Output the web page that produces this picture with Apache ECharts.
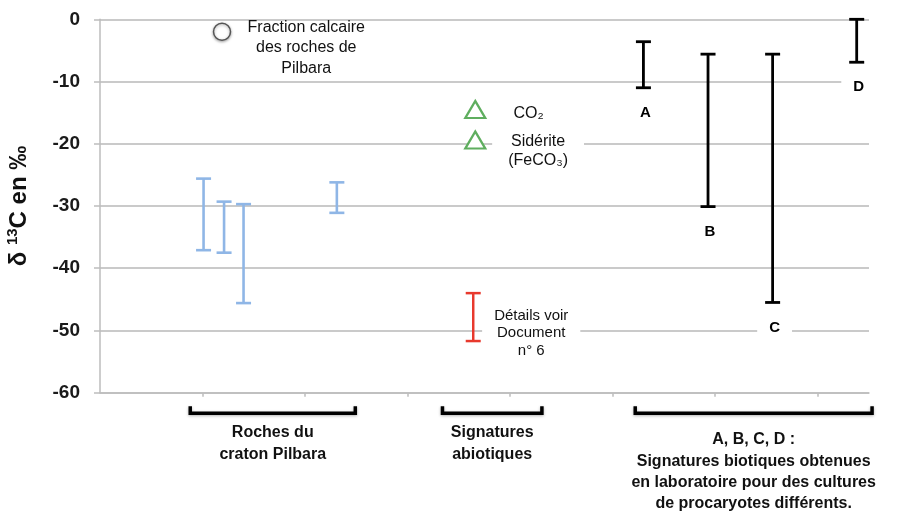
<!DOCTYPE html>
<html>
<head>
<meta charset="utf-8">
<script src="https://cdn.jsdelivr.net/npm/echarts@6/dist/echarts.min.js"></script>
<style>
  html, body { margin: 0; padding: 0; background: #fff; }
  #chart { width: 898px; height: 514px; }
</style>
</head>
<body>
<div id="chart"></div>
<script>
// roches du craton Pilbara (barres bleues)
const rockX = [1.01, 1.21, 1.40, 2.31];
const rockLow = [-37.1, -37.5, -45.6, -31.1];
const rockHigh = [-25.6, -29.3, -29.7, -26.2];

// fraction calcaire (cercle)
const calcX = 1.19;
const calcY = -2.0;

// signatures abiotiques : CO2, siderite (triangles) + barre rouge
const abioX = [3.66, 3.66];
const abioY = [-14.5, -19.4];
const abioNames = ["CO₂", "Sidérite\n(FeCO₃)"];
const redX = 3.64;
const redLow = -51.7;
const redHigh = -44.0;

// signatures biotiques A-D (barres noires)
const bioNames = ["A", "B", "C", "D"];
const bioX = [5.30, 5.93, 6.56, 7.38];
const bioLow = [-11.0, -30.1, -45.5, -6.9];
const bioHigh = [-3.6, -5.6, -5.6, 0];

// accolades sous l'axe
const groupStart = [0.88, 3.34, 5.22];
const groupEnd = [2.49, 4.31, 7.53];
const groupLabels = [
  "Roches du\ncraton Pilbara",
  "Signatures\nabiotiques",
  "A, B, C, D :\nSignatures biotiques obtenues\nen laboratoire pour des cultures\nde procaryotes différents."
];

const chart = echarts.init(document.getElementById("chart"));

function errorBar(color, width, note) {
  return function (params, api) {
    const x = api.value(0);
    const top = api.coord([x, api.value(2)]);
    const bot = api.coord([x, api.value(1)]);
    const cap = 7.5;
    const ls = { stroke: color, lineWidth: width };
    const children = [
      { type: "line", shape: { x1: top[0], y1: top[1], x2: bot[0], y2: bot[1] }, style: ls },
      { type: "line", shape: { x1: top[0] - cap, y1: top[1], x2: top[0] + cap, y2: top[1] }, style: ls },
      { type: "line", shape: { x1: bot[0] - cap, y1: bot[1], x2: bot[0] + cap, y2: bot[1] }, style: ls }
    ];
    if (note) {
      children.push(note(params, top, bot));
    }
    return { type: "group", children: children };
  };
}

const rockData = rockX.map((x, i) => [x, rockLow[i], rockHigh[i]]);
const bioData = bioX.map((x, i) => [x, bioLow[i], bioHigh[i]]);
const groupData = groupStart.map((s, i) => [s, groupEnd[i]]);

const options = {
  animation: false,
  grid: { left: 100, right: 29, top: 19.3, bottom: 121.3, outerBoundsMode: "none" },
  xAxis: {
    type: "value",
    min: 0,
    max: 7.5,
    axisLine: { show: true, onZero: false, lineStyle: { color: "#bdbdbd", width: 1.5 } },
    axisTick: {
      show: true,
      length: 4,
      customValues: [1, 2, 3, 4, 5, 6, 7],
      lineStyle: { color: "#bdbdbd", width: 1.5 }
    },
    axisLabel: { show: false },
    splitLine: { show: false }
  },
  yAxis: {
    type: "value",
    min: -60,
    max: 0,
    interval: 10,
    name: "{d|δ }{s|13}{d|C en ‰}",
    nameLocation: "middle",
    nameRotate: 90,
    nameGap: 67,
    nameTextStyle: {
      fontFamily: "Liberation Sans",
      fontWeight: "bold",
      fontSize: 24,
      color: "#111",
      rich: {
        d: { fontFamily: "Liberation Sans", fontWeight: "bold", fontSize: 24, color: "#111", lineHeight: 28 },
        s: { fontFamily: "Liberation Sans", fontWeight: "bold", fontSize: 15, color: "#111", verticalAlign: "top", lineHeight: 28 }
      }
    },
    axisLine: { show: true, lineStyle: { color: "#bdbdbd", width: 1.5 } },
    axisTick: { show: true, length: 6, lineStyle: { color: "#bdbdbd", width: 1.5 } },
    axisLabel: {
      margin: 20,
      fontFamily: "Liberation Sans",
      fontWeight: "bold",
      fontSize: 19,
      color: "#1a1a1a"
    },
    splitLine: { lineStyle: { color: "#cacaca", width: 2 } }
  },
  series: [
    {
      name: "Roches du craton Pilbara",
      type: "custom",
      renderItem: errorBar("#8fb6e6", 2.6),
      data: rockData,
      z: 3
    },
    {
      name: "Fraction calcaire",
      type: "scatter",
      symbol: "circle",
      symbolSize: 17,
      itemStyle: {
        opacity: 1,
        color: "#fff",
        borderColor: "#555",
        borderWidth: 1.5,
        shadowBlur: 3,
        shadowColor: "rgba(0,0,0,0.35)",
        shadowOffsetY: 1
      },
      label: {
        show: true,
        position: [93.5, -5.5],
        align: "center",
        verticalAlign: "top",
        lineHeight: 20.5,
        fontFamily: "Liberation Sans",
        fontSize: 16,
        color: "#111",
        formatter: "Fraction calcaire\ndes roches de\nPilbara"
      },
      data: [[calcX, calcY]],
      z: 4
    },
    {
      name: "Signatures abiotiques",
      type: "scatter",
      symbol: "triangle",
      symbolSize: [20, 17],
      itemStyle: { opacity: 1, color: "#fff", borderColor: "#5fae5f", borderWidth: 2.2 },
      label: {
        show: true,
        fontFamily: "Liberation Sans",
        fontSize: 16,
        color: "#111",
        formatter: (p) => abioNames[p.dataIndex]
      },
      data: [
        {
          value: [abioX[0], abioY[0]],
          label: { position: "right", distance: 27, offset: [0, 4] }
        },
        {
          value: [abioX[1], abioY[1]],
          label: {
            position: [74, 0],
            align: "center",
            verticalAlign: "top",
            lineHeight: 19,
            backgroundColor: "#fff",
            padding: [2, 16]
          }
        }
      ],
      z: 4
    },
    {
      name: "Détails",
      type: "custom",
      renderItem: errorBar("#e8392d", 2.5, function (params, top, bot) {
        return {
          type: "text",
          style: {
            text: "Détails voir\nDocument\nn° 6",
            x: top[0] + 58,
            y: (top[1] + bot[1]) / 2 + 16,
            align: "center",
            verticalAlign: "middle",
            fontFamily: "Liberation Sans",
            fontSize: 15,
            lineHeight: 17.5,
            fill: "#111",
            backgroundColor: "#fff",
            padding: [0, 12]
          }
        };
      }),
      data: [[redX, redLow, redHigh]],
      z: 3
    },
    {
      name: "Signatures biotiques",
      type: "custom",
      renderItem: errorBar("#000", 2.8, function (params, top, bot) {
        return {
          type: "text",
          style: {
            text: bioNames[params.dataIndex],
            x: bot[0] + 2,
            y: bot[1] + 25,
            align: "center",
            verticalAlign: "middle",
            fontFamily: "Liberation Sans",
            fontWeight: "bold",
            fontSize: 15,
            fill: "#000",
            backgroundColor: "#fff",
            padding: [3, 12]
          }
        };
      }),
      data: bioData,
      z: 3
    },
    {
      name: "Groupes",
      type: "custom",
      clip: false,
      renderItem: function (params, api) {
        const p0 = api.coord([api.value(0), -60]);
        const p1 = api.coord([api.value(1), -60]);
        const y = p0[1] + 20.5;
        return {
          type: "group",
          children: [
            {
              type: "polyline",
              shape: { points: [[p0[0], y - 7], [p0[0], y], [p1[0], y], [p1[0], y - 7]] },
              style: {
                stroke: "#000",
                lineWidth: 3.5,
                fill: null,
                shadowBlur: 3,
                shadowColor: "rgba(0,0,0,0.3)",
                shadowOffsetY: 1
              }
            },
            {
              type: "text",
              style: {
                text: groupLabels[params.dataIndex],
                x: (p0[0] + p1[0]) / 2,
                y: y + (params.dataIndex === 2 ? 16 : 9),
                align: "center",
                verticalAlign: "top",
                fontFamily: "Liberation Sans",
                fontWeight: "bold",
                fontSize: 16,
                lineHeight: 21.3,
                fill: "#111"
              }
            }
          ]
        };
      },
      data: groupData,
      z: 3
    }
  ]
};

chart.setOption(options);
</script>
</body>
</html>
